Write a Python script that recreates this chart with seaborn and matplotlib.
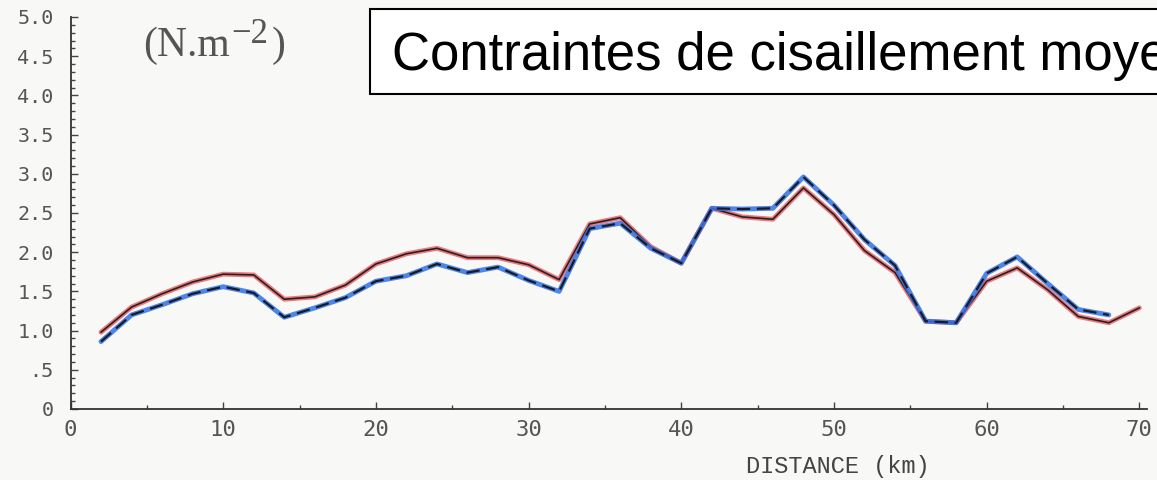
import matplotlib
matplotlib.use('Agg')
import matplotlib.pyplot as plt
import seaborn as sns
import pandas as pd
from matplotlib.patches import Rectangle
from matplotlib.ticker import MultipleLocator

# ---- data ----
km_a = [2, 4, 6, 8, 10, 12, 14, 16, 18, 20, 22, 24, 26, 28, 30, 32, 34, 36, 38, 40,
        42, 44, 46, 48, 50, 52, 54, 56, 58, 60, 62, 64, 66, 68, 70]
tau_a = [0.98, 1.30, 1.47, 1.62, 1.72, 1.71, 1.40, 1.43, 1.58, 1.85, 1.98, 2.05, 1.93, 1.93,
         1.84, 1.65, 2.36, 2.44, 2.07, 1.86, 2.56, 2.45, 2.42, 2.82, 2.48, 2.02, 1.74, 1.12,
         1.10, 1.63, 1.80, 1.52, 1.18, 1.10, 1.29]
km_b = [2, 4, 6, 8, 10, 12, 14, 16, 18, 20, 22, 24, 26, 28, 30, 32, 34, 36, 38, 40,
        42, 44, 46, 48, 50, 52, 54, 56, 58, 60, 62, 64, 66, 68]
tau_b = [0.86, 1.20, 1.33, 1.47, 1.56, 1.48, 1.17, 1.29, 1.42, 1.63, 1.70, 1.85, 1.74, 1.81,
         1.64, 1.50, 2.30, 2.37, 2.05, 1.86, 2.56, 2.55, 2.56, 2.96, 2.60, 2.16, 1.83, 1.12,
         1.10, 1.73, 1.94, 1.60, 1.27, 1.20]
x_ticks = [0, 10, 20, 30, 40, 50, 60, 70]
y_ticks = [0, 0.5, 1.0, 1.5, 2.0, 2.5, 3.0, 3.5, 4.0, 4.5, 5.0]
y_tick_labels = ['0', '.5', '1.0', '1.5', '2.0', '2.5', '3.0', '3.5', '4.0', '4.5', '5.0']
title_text = "Contraintes de cisaillement moyennes"
xlabel_text = "DISTANCE (km)"

df_a = pd.DataFrame({'km': km_a, 'tau': tau_a})
df_b = pd.DataFrame({'km': km_b, 'tau': tau_b})

sns.set_theme(style='white')

W, H = 1157, 480
bg = '#f8f8f6'
fig = plt.figure(figsize=(W / 100, H / 100), dpi=100, facecolor=bg)
ax = fig.add_axes([70.5 / W, 71 / H, (1147 - 70.5) / W, 392 / H])
ax.set_facecolor(bg)

sns.lineplot(data=df_a, x='km', y='tau', ax=ax, color='#e85a60', lw=3.5, alpha=0.8)
sns.lineplot(data=df_a, x='km', y='tau', ax=ax, color='#2a2020', lw=1.2)
sns.lineplot(data=df_b, x='km', y='tau', ax=ax, color='#2f72ea', lw=3.5, alpha=0.85)
sns.lineplot(data=df_b, x='km', y='tau', ax=ax, color='#1a1a22', lw=1.6, linestyle=(0, (6, 3)))

ax.set_xlim(0, 70.5)
ax.set_ylim(0, 5.0)
for s in ['top', 'right']:
    ax.spines[s].set_visible(False)
for s in ['left', 'bottom']:
    ax.spines[s].set_color('#333333')
    ax.spines[s].set_linewidth(1.3)

mono = 'DejaVu Sans Mono'
ax.set_xticks(x_ticks)
ax.set_xticklabels([str(v) for v in x_ticks], family=mono, fontsize=16, color='#555555')
ax.set_yticks(y_ticks)
ax.set_yticklabels(y_tick_labels, family=mono, fontsize=14.5, color='#555555')
ax.xaxis.set_minor_locator(MultipleLocator(5))
ax.yaxis.set_minor_locator(MultipleLocator(0.1))
ax.tick_params(axis='both', which='major', direction='in', length=5, width=1, color='#444444')
ax.tick_params(axis='both', which='minor', direction='in', length=3, width=1, color='#444444')
ax.tick_params(axis='x', which='both', pad=8)
ax.tick_params(axis='y', which='both', pad=12)
ax.tick_params(left=True, bottom=True, which='both')
ax.set_xlabel('')
ax.set_ylabel('')

fig.text(838 / W, (H - 467) / H, xlabel_text, family='Liberation Mono', fontsize=17,
         color='#444444', ha='center', va='center')

# unit label "(N.m-2)" with a near full-size raised exponent
serif = 'Liberation Serif'
gray = '#555555'
base_px = H - 56
renderer = fig.canvas.get_renderer()
t1 = fig.text(143 / W, base_px / H, "(N.m", family=serif, fontsize=30,
              color=gray, ha='left', va='baseline')
x_px = t1.get_window_extent(renderer).x1 + 2
t2 = fig.text(x_px / W, (base_px + 13) / H, "\u22122", family=serif, fontsize=25,
              color=gray, ha='left', va='baseline')
x_px = t2.get_window_extent(renderer).x1 + 3
fig.text(x_px / W, base_px / H, ")", family=serif, fontsize=30,
         color=gray, ha='left', va='baseline')

fig.patches.append(Rectangle((370 / W, (H - 94) / H), 800 / W, 85 / H,
                             transform=fig.transFigure, facecolor='white',
                             edgecolor='black', lw=1.5, zorder=5))
fig.text(392 / W, (H - 70) / H, title_text, family='Liberation Sans', fontsize=38,
         color='black', ha='left', va='baseline', zorder=6)

fig.savefig('out.png', dpi=100, facecolor=bg)
